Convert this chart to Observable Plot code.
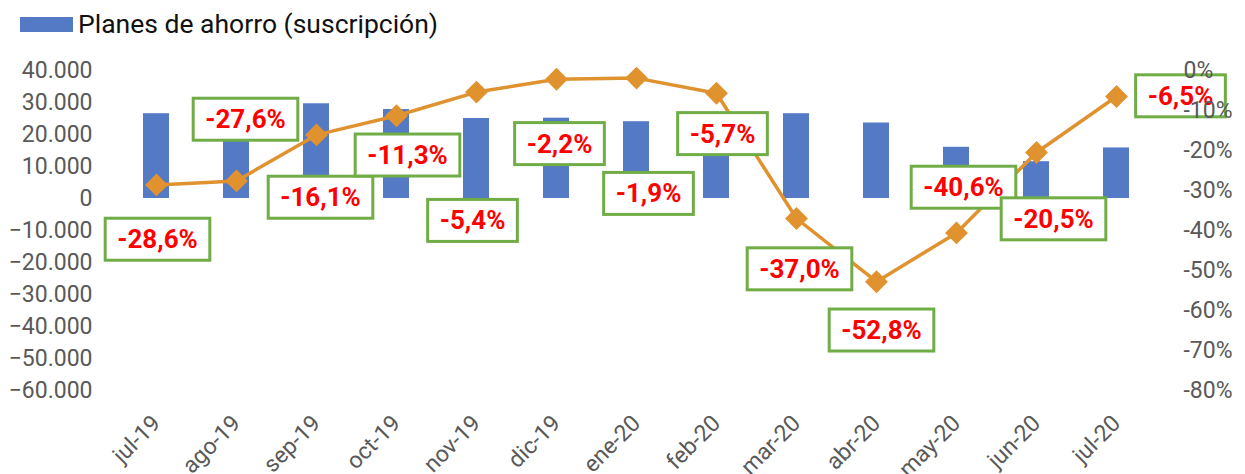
<!DOCTYPE html>
<html><head><meta charset="utf-8">
<script src="https://cdn.jsdelivr.net/npm/d3@7"></script>
<script src="https://cdn.jsdelivr.net/npm/@observablehq/plot@0.6"></script>
<style>
body{margin:0;background:#fff;font-family:Roboto,sans-serif;}
#legend{height:45px;position:relative;}
#legend .sw{position:absolute;left:20px;top:17px;width:53px;height:15px;background:#5479C5;}
#legend .lb{position:absolute;left:78px;top:8px;font-size:26.5px;line-height:32px;color:#111;white-space:nowrap;}
</style></head><body>
<div id="legend"><span class="sw"></span><span class="lb">Planes de ahorro (suscripción)</span></div>
<div id="chart"></div>
<script>
// ---- data ----
const months = ["jul-19","ago-19","sep-19","oct-19","nov-19","dic-19","ene-20","feb-20","mar-20","abr-20","may-20","jun-20","jul-20"];
const suscripcion = [26500, 24000, 29600, 27800, 25000, 25100, 24000, 22500, 26500, 23600, 16000, 11500, 15800];
const variacion = [-28.6, -27.6, -16.1, -11.3, -5.4, -2.2, -1.9, -5.7, -37.0, -52.8, -40.6, -20.5, -6.5];
const leftTicks = [-60000, -50000, -40000, -30000, -20000, -10000, 0, 10000, 20000, 30000, 40000];
const rightTicks = [0, -10, -20, -30, -40, -50, -60, -70, -80];

// ---- layout (label offsets in px from each point) ----
const labelOffsets = [[1,55],[9,-61],[4,63],[11,40],[-4,129],[3,65],[12,116],[6,41],[3,51],[5,49],[7,-45],[17,67],[64,0]];

// secondary axis: 0% <-> 40000, -80% <-> -60000
const pctToLeft = p => 40000 + p * 1250;
const leftToPct = v => Math.round((v - 40000) / 1250);

const data = months.map((m, i) => ({mes: m, v: suscripcion[i], p: variacion[i], pv: pctToLeft(variacion[i])}));

const fmtN = d3.formatLocale({decimal: ",", thousands: ".", grouping: [3], currency: ["", "€"]}).format(",");
const fmtP = p => p.toFixed(1).replace(".", ",") + "%";

const gray = "#595959";
const plot = Plot.plot({
  width: 1245, height: 429,
  marginTop: 25, marginBottom: 84, marginLeft: 115, marginRight: 87,
  style: {fontFamily: "Roboto, sans-serif", background: "#fff", color: gray, overflow: "visible"},
  x: {domain: months, paddingInner: 0.67, paddingOuter: 0.335, label: null},
  y: {domain: [-60000, 40000], label: null},
  marks: [
    Plot.barY(data, {x: "mes", y: "v", fill: "#5479C5"}),
    Plot.line(data, {x: "mes", y: "pv", stroke: "#E0922F", strokeWidth: 3.5}),
    Plot.dot(data, {x: "mes", y: "pv", symbol: "diamond2", r: 10.3, fill: "#E0922F"}),
    ...data.map((d, i) => Plot.text([d], {
      x: "mes", y: "pv", text: e => fmtP(e.p),
      dx: labelOffsets[i][0], dy: labelOffsets[i][1],
      fill: "#FF0000", fontWeight: "bold", fontSize: 26, className: "dlabel"
    })),
    Plot.axisX({tickRotate: -45, tickSize: 0, tickPadding: 29, fontSize: 23, fill: gray, label: null}),
    Plot.axisY({anchor: "left", ticks: leftTicks, tickFormat: fmtN, tickSize: 0, tickPadding: 23, fontSize: 23, fill: gray, label: null}),
    Plot.axisY({anchor: "right", ticks: rightTicks.map(pctToLeft), tickFormat: v => leftToPct(v) + "%", tickSize: 0, tickPadding: 25, fontSize: 23, fill: gray, label: null})
  ]
});
document.getElementById("chart").appendChild(plot);

// boxes behind data labels
plot.querySelectorAll("g.dlabel text").forEach(t => {
  const bb = t.getBBox();
  const cy = bb.y + bb.height / 2;
  const r = document.createElementNS("http://www.w3.org/2000/svg", "rect");
  r.setAttribute("x", bb.x - 12);
  r.setAttribute("y", cy - 21);
  r.setAttribute("width", bb.width + 24);
  r.setAttribute("height", 42);
  r.setAttribute("fill", "#fff");
  r.setAttribute("stroke", "#70AD47");
  r.setAttribute("stroke-width", 3);
  const tr = t.getAttribute("transform");
  if (tr) r.setAttribute("transform", tr);
  t.parentNode.insertBefore(r, t);
});
</script>
</body></html>
